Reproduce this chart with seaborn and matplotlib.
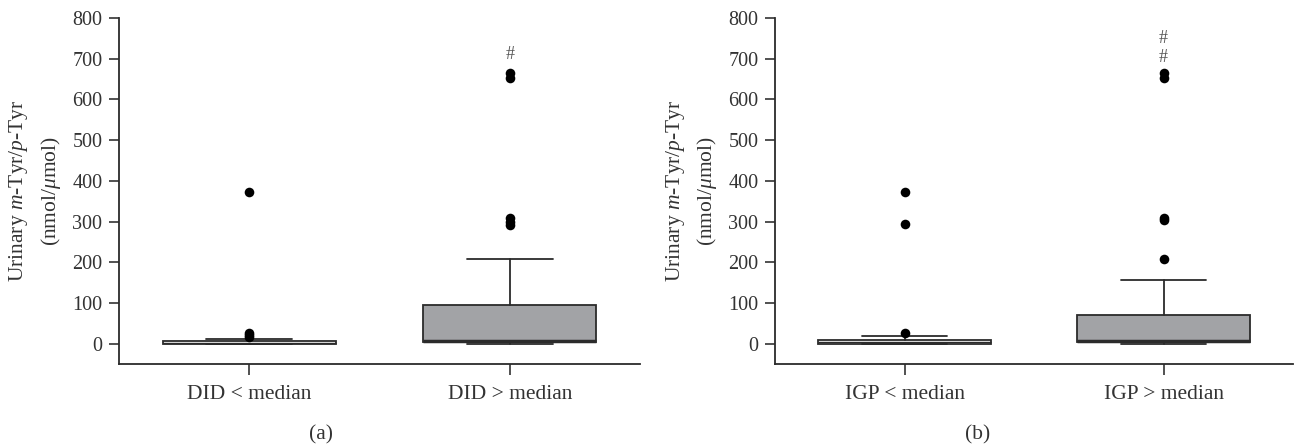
import matplotlib
matplotlib.use("Agg")
import matplotlib.pyplot as plt
import seaborn as sns
import pandas as pd

# ---- data ----
cats_a = ["DID < median", "DID > median"]
cats_b = ["IGP < median", "IGP > median"]

# box summaries: whislo, q1, median, q3, whishi
box_a_low = [0, 0, 2, 7, 11]
box_a_high = [0, 3, 7, 95, 207]
box_b_low = [0, 0, 3, 9, 19]
box_b_high = [0, 3, 6, 70, 156]

out_a_low = [16, 22, 27, 372]
out_a_high = [292, 300, 308, 652, 665]
out_b_low = [27, 293, 372]
out_b_high = [207, 304, 308, 652, 665]

hash_a = [711]
hash_b = [703, 750]

fills = ["white", "#a2a3a6"]
panel_labels = ["(a)", "(b)"]

# ---- style ----
sns.set_theme(style="ticks")
plt.rcParams["font.family"] = ["Liberation Serif", "DejaVu Serif"]
plt.rcParams["mathtext.fontset"] = "custom"
plt.rcParams["mathtext.rm"] = "Liberation Serif"
plt.rcParams["mathtext.it"] = "Liberation Serif:italic"
TXT = "#333333"

fig = plt.figure(figsize=(12.96, 4.47), dpi=100)
ax_a = fig.add_axes([119/1296, 83/447, 521/1296, 346/447])
ax_b = fig.add_axes([775/1296, 83/447, 518/1296, 346/447])


def stats(vals, label):
    lo, q1, med, q3, hi = vals
    return dict(whislo=lo, q1=q1, med=med, q3=q3, whishi=hi, fliers=[], label=label)


def draw(ax, cats, boxes, outs, hashes, caption, cx):
    st = [stats(b, c) for b, c in zip(boxes, cats)]
    bp = ax.bxp(st, positions=[0, 1], widths=0.665, capwidths=0.33,
                patch_artist=True, showfliers=False,
                boxprops=dict(edgecolor="#2b2b2b", linewidth=1.3),
                whiskerprops=dict(color="#2b2b2b", linewidth=1.3),
                capprops=dict(color="#2b2b2b", linewidth=1.3),
                medianprops=dict(color="#2b2b2b", linewidth=2.5))
    for patch, f in zip(bp["boxes"], fills):
        patch.set_facecolor(f)
    bp["medians"][0].set_linewidth(1.0)
    df = pd.DataFrame({
        "pos": [i for i, o in enumerate(outs) for _ in o],
        "val": [v for o in outs for v in o],
    })
    sns.scatterplot(data=df, x="pos", y="val", ax=ax, color="black",
                    s=48, edgecolor="black", linewidth=0, zorder=5, legend=False)
    for h in hashes:
        ax.text(1, h, "#", ha="center", va="center", fontsize=13, color="#555555")
    ax.set_xlim(-0.5, 1.5)
    ax.set_ylim(-50, 800)
    ax.set_yticks(range(0, 801, 100))
    ax.set_xticks([0, 1])
    ax.set_xticklabels(cats)
    ax.set_xlabel("")
    ax.set_ylabel("Urinary $m$-Tyr/$p$-Tyr\n(nmol/$\\mu$mol)", fontsize=15.5,
                  color=TXT, linespacing=1.5)
    ax.yaxis.set_label_coords(-0.108, 0.5)
    ax.tick_params(axis="y", labelsize=14.5, colors=TXT, length=7, width=1.2, pad=5)
    ax.tick_params(axis="x", labelsize=15.5, colors=TXT, length=8, width=1.2, pad=7)
    sns.despine(ax=ax)
    for sp in ("left", "bottom"):
        ax.spines[sp].set_color("#2b2b2b")
        ax.spines[sp].set_linewidth(1.3)
    fig.text(cx / 1296, 1 - 435 / 447, caption, ha="center", va="center",
             fontsize=15.5, color=TXT)


draw(ax_a, cats_a, [box_a_low, box_a_high], [out_a_low, out_a_high], hash_a,
     panel_labels[0], 321)
draw(ax_b, cats_b, [box_b_low, box_b_high], [out_b_low, out_b_high], hash_b,
     panel_labels[1], 978)

fig.savefig("out.png", dpi=100)
